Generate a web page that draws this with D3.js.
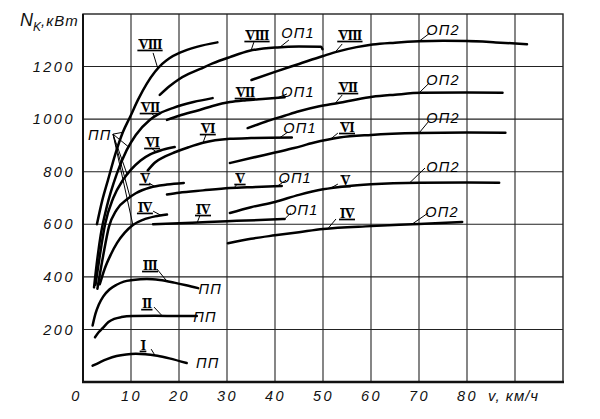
<!DOCTYPE html>
<html>
<head>
<meta charset="utf-8">
<script src="https://cdn.jsdelivr.net/npm/d3@7"></script>
<style>
  body { margin: 0; background: #fff; }
  .tick text { font-family: 'Liberation Sans Narrow', 'Liberation Sans', sans-serif; font-style: italic; font-size: 14.5px; letter-spacing: 2.5px; fill: #111; }
</style>
</head>
<body>
<div id="chart"></div>
<script>
// traction power N (kW) vs speed v (km/h), [v, N] points
// ПП - full field, ОП1 / ОП2 - weakened field, I..VIII - controller positions
const ppI    = [[2,62],[3.5,75],[5,87],[7,99],[9,105],[11,107],[13,106],[15.5,100],[18,90],[21.6,72]];
const ppII   = [[2.5,170],[3.3,190],[4.2,207],[5.3,228],[6.5,240],[8,247],[10.4,251],[15,252],[20,251],[23.7,251]];
const ppIII  = [[2,215],[2.6,260],[3.3,295],[4.2,325],[5.5,352],[7,370],[8.5,382],[10.4,388],[13.3,392],[16,388],[19,378],[21.5,368],[24,357]];
const ppIV   = [[3.5,372],[4.5,430],[5.8,485],[7.1,529],[8.7,568],[10.4,597],[12.5,617],[15,630],[17.5,637]];
const ppV    = [[3,355],[4.2,480],[5.4,590],[7,655],[9.4,698],[11,718],[14,740],[17.5,751],[21,757]];
const ppVI   = [[2.6,370],[3.5,480],[4.6,600],[6.3,700],[8.3,768],[10,808],[12,843],[14,866],[16.5,883],[19.1,894]];
const ppVII  = [[2.3,360],[3,470],[3.7,560],[5,670],[7,790],[9.1,882],[11,940],[13.9,997],[16,1022],[18.7,1042],[23,1065],[27,1080]];
const ppVIII = [[2.9,600],[4,690],[5.2,768],[6.7,865],[8.3,950],[9.8,1008],[11.5,1075],[13.3,1135],[15,1180],[16.5,1210],[18,1232],[20.2,1253],[23.7,1275],[28,1292]];

const op1IV   = [[14.6,600],[20,604],[26,609],[32,613],[38,617],[42,620]];
const op1V    = [[17.5,713],[20,720],[25,729],[30.6,738],[36,742],[41.4,746]];
const op1VI   = [[13.5,805],[15,835],[17,857],[19,873],[22,893],[25,910],[30.6,925],[35,928],[43.5,930]];
const op1VII  = [[17.5,997],[20,1013],[24.3,1035],[27,1050],[30.6,1065],[34,1072],[37.4,1077],[42,1083]];
const op1VIII = [[16,1092],[18,1125],[20,1152],[22,1172],[24.3,1190],[27,1212],[30.6,1236],[34.7,1260],[40.5,1273],[45,1276],[49.6,1275],[49.9,1266]];

const op2IV   = [[30.2,528],[35,545],[40,558],[45,570],[50,582],[60,593],[70,601],[79,609]];
const op2V    = [[30.6,643],[35,665],[40,685],[45,712],[50,733],[55,745],[60,752],[70,758],[80,759],[86.7,758]];
const op2VI   = [[30.6,833],[35,852],[40,873],[44,890],[48,910],[53.4,930],[60,940],[70,947],[80,949],[88,948]];
const op2VII  = [[34.3,966],[38,990],[42,1013],[45,1030],[49,1048],[53.4,1062],[57,1075],[60.3,1085],[65,1093],[70.5,1100],[80,1101],[87.4,1100]];
const op2VIII = [[35.1,1149],[40,1180],[45,1210],[50,1240],[53,1257],[57,1274],[60.3,1284],[65,1291],[70,1296],[75,1298],[80,1297],[86,1292],[92.5,1285]];

// axis ticks
const xTicks = [0, 10, 20, 30, 40, 50, 60, 70, 80];
const yTicks = [200, 400, 600, 800, 1000, 1200];
const xGrid = [10, 20, 30, 40, 50, 60, 70, 80, 90];
const yGrid = [200, 400, 600, 800, 1000, 1200];

// labels: [text, label v, label N, leader start v, leader start N, curve, v on curve]
const romanLabels = [
  ['VIII', 13.96, 1286, 14.6, 1252, 'ppVIII', 15.6],
  ['VII', 13.96, 1046, 14.2, 1023, 'ppVII', 15],
  ['VI', 14.4, 913, 14.2, 890, 'ppVI', 15.3],
  ['V', 12.9, 776, 13.75, 757, 'ppV', 15],
  ['IV', 12.9, 666, 14.6, 650, 'ppIV', 16.3],
  ['III', 13.96, 445, 15.4, 430, 'ppIII', 17.5],
  ['II', 13.3, 300, 14.8, 285, 'ppII', 16.5],
  ['I', 12.5, 141, 14.2, 125, 'ppI', 15],
  ['VIII', 36.25, 1320, 35.6, 1293, 'op1VIII', 35],
  ['VII', 33.75, 1103, 33.3, 1080, 'op1VII', 32.5],
  ['VI', 26, 966, 25.6, 940, 'op1VI', 25],
  ['V', 32.7, 776, 32.1, 753, 'op1V', 31.5],
  ['IV', 25, 658, 24.4, 635, 'op1IV', 23.8],
  ['VIII', 55.6, 1320, 54, 1286, 'op2VIII', 52.5],
  ['VII', 55.2, 1122, 54, 1092, 'op2VII', 52.5],
  ['VI', 55, 970, 53.1, 947, 'op2VI', 51.5],
  ['V', 54.6, 768, 53.1, 753, 'op2V', 51.5],
  ['IV', 55, 643, 52.7, 620, 'op2IV', 51]
];
const modeLabels = [
  ['ОП1', 44.8, 1328, 42.9, 1301, 'op1VIII', 41],
  ['ОП1', 44.8, 1103, 42.5, 1096, 'op1VII', 40.5],
  ['ОП1', 45.2, 966, 42.7, 951, 'op1VI', 41],
  ['ОП1', 44.2, 776, 42.3, 768, 'op1V', 40.5],
  ['ОП1', 45.6, 654, 43.3, 643, 'op1IV', 42],
  ['ОП2', 75, 1339, 72.3, 1328, 'op2VIII', 70],
  ['ОП2', 75, 1149, 72.1, 1137, 'op2VII', 70],
  ['ОП2', 75, 1004, 71.9, 989, 'op2VI', 70],
  ['ОП2', 75, 818, 71.25, 814, 'op2V', 68],
  ['ОП2', 74.8, 647, 71.9, 643, 'op2IV', 68.5],
  ['ПП', 26.5, 354, null, null, null, null],
  ['ПП', 25.4, 247, null, null, null, null],
  ['ПП', 26, 72, null, null, null, null]
];
// common ПП label with fan of leaders
const ppFan = { text: 'ПП', v: 3.5, n: 940, sv: 6.25, sn: 943 };
const ppFanTargets = [['ppVIII', 8.3], ['ppVII', 9.5], ['ppVI', 9.2], ['ppV', 9.8], ['ppIV', 10.4]];

const curves = { ppI, ppII, ppIII, ppIV, ppV, ppVI, ppVII, ppVIII,
  op1IV, op1V, op1VI, op1VII, op1VIII, op2IV, op2V, op2VI, op2VII, op2VIII };

// svg size
const svg_width = 600;
const svg_height = 419;

const svg = d3.select('#chart').append('svg')
  .attr('width', svg_width)
  .attr('height', svg_height);

const x = d3.scaleLinear().domain([0, 100]).range([83, 563]);
const y = d3.scaleLinear().domain([0, 1400]).range([382, 14]);

// value of a curve at v (linear between read points)
function onCurve(name, v) {
  const pts = curves[name];
  for (let i = 1; i < pts.length; i++) {
    if (v <= pts[i][0]) {
      const t = (v - pts[i - 1][0]) / (pts[i][0] - pts[i - 1][0]);
      return pts[i - 1][1] + t * (pts[i][1] - pts[i - 1][1]);
    }
  }
  return pts[pts.length - 1][1];
}

// grid
const grid = svg.append('g').attr('stroke', '#222').attr('stroke-width', 1.1);
grid.selectAll('.gx').data(xGrid).enter().append('line')
  .attr('x1', d => x(d)).attr('x2', d => x(d))
  .attr('y1', y(0)).attr('y2', y(1400));
grid.selectAll('.gy').data(yGrid).enter().append('line')
  .attr('x1', x(0)).attr('x2', x(100))
  .attr('y1', d => y(d)).attr('y2', d => y(d));

// frame
svg.append('rect')
  .attr('x', x(0)).attr('y', y(1400))
  .attr('width', x(100) - x(0)).attr('height', y(0) - y(1400))
  .attr('fill', 'none').attr('stroke', '#222').attr('stroke-width', 1.4);
svg.append('line').attr('x1', x(0)).attr('x2', x(0)).attr('y1', y(0)).attr('y2', y(1400))
  .attr('stroke', '#111').attr('stroke-width', 2);
svg.append('line').attr('x1', x(0) - 1).attr('x2', x(100) + 1).attr('y1', y(0)).attr('y2', y(0))
  .attr('stroke', '#111').attr('stroke-width', 2.6);

// axes (labels only)
const xAxis = svg.append('g')
  .attr('transform', `translate(0, ${y(0)})`)
  .call(d3.axisBottom(x).tickValues(xTicks).tickFormat(d3.format('d')).tickSize(0).tickPadding(9));
xAxis.select('.domain').remove();
xAxis.selectAll('.tick').filter(d => d === 0).select('text').attr('dx', -7);

const yAxis = svg.append('g')
  .attr('transform', `translate(${x(0)}, 0)`)
  .call(d3.axisLeft(y).tickValues(yTicks).tickFormat(d3.format('d')).tickSize(0).tickPadding(8));
yAxis.select('.domain').remove();

// axis titles
const nTitle = svg.append('text')
  .attr('x', 20).attr('y', 26)
  .attr('font-family', "'Liberation Sans Narrow', 'Liberation Sans', sans-serif")
  .attr('font-style', 'italic').attr('fill', '#111');
nTitle.append('tspan').attr('font-size', 18).text('N');
nTitle.append('tspan').attr('font-size', 12).attr('dy', 5).text('K');
nTitle.append('tspan').attr('font-size', 15).attr('dy', -5).attr('letter-spacing', 1).text(',кВт');

svg.append('text')
  .attr('x', x(84.4)).attr('y', 401)
  .attr('font-family', "'Liberation Sans Narrow', 'Liberation Sans', sans-serif")
  .attr('font-style', 'italic').attr('font-size', 15).attr('letter-spacing', 1).attr('fill', '#111')
  .text('v, км/ч');

// curves
const line = d3.line()
  .x(d => x(d[0]))
  .y(d => y(d[1]))
  .curve(d3.curveMonotoneX);

svg.append('g').selectAll('path')
  .data(Object.values(curves))
  .enter().append('path')
  .attr('d', line)
  .attr('fill', 'none')
  .attr('stroke', '#000')
  .attr('stroke-width', 2.5)
  .attr('stroke-linecap', 'round');

// leaders
const leaders = svg.append('g').attr('stroke', '#000').attr('stroke-width', 1);
romanLabels.concat(modeLabels).filter(d => d[5]).forEach(d => {
  leaders.append('line')
    .attr('x1', x(d[3])).attr('y1', y(d[4]))
    .attr('x2', x(d[6])).attr('y2', y(onCurve(d[5], d[6])));
});
ppFanTargets.forEach(d => {
  leaders.append('line')
    .attr('x1', x(ppFan.sv)).attr('y1', y(ppFan.sn))
    .attr('x2', x(d[1])).attr('y2', y(onCurve(d[0], d[1])));
});

// roman numerals, bold serif with bars
romanLabels.forEach(d => {
  const t = svg.append('text')
    .attr('x', x(d[1])).attr('y', y(d[2]) + 5)
    .attr('text-anchor', 'middle')
    .attr('font-family', "'Liberation Serif', serif")
    .attr('font-weight', 'bold').attr('font-size', 14)
    .attr('letter-spacing', -0.8)
    .attr('fill', '#000')
    .text(d[0]);
  const w = t.node().getComputedTextLength();
  const cx = x(d[1]);
  svg.append('line').attr('x1', cx - w / 2 - 1).attr('x2', cx + w / 2 + 1)
    .attr('y1', y(d[2]) + 6.5).attr('y2', y(d[2]) + 6.5)
    .attr('stroke', '#000').attr('stroke-width', 1.7);
  svg.append('line').attr('x1', cx - w / 2).attr('x2', cx + w / 2)
    .attr('y1', y(d[2]) - 4.3).attr('y2', y(d[2]) - 4.3)
    .attr('stroke', '#000').attr('stroke-width', 1);
});

// regime labels
modeLabels.concat([[ppFan.text, ppFan.v, ppFan.n]]).forEach(d => {
  svg.append('text')
    .attr('x', x(d[1])).attr('y', y(d[2]) + 5)
    .attr('text-anchor', 'middle')
    .attr('font-family', "'Liberation Sans Narrow', 'Liberation Sans', sans-serif")
    .attr('font-style', 'italic').attr('font-size', 14.5)
    .attr('letter-spacing', 1.2)
    .attr('fill', '#000')
    .text(d[0]);
});
</script>
</body>
</html>
